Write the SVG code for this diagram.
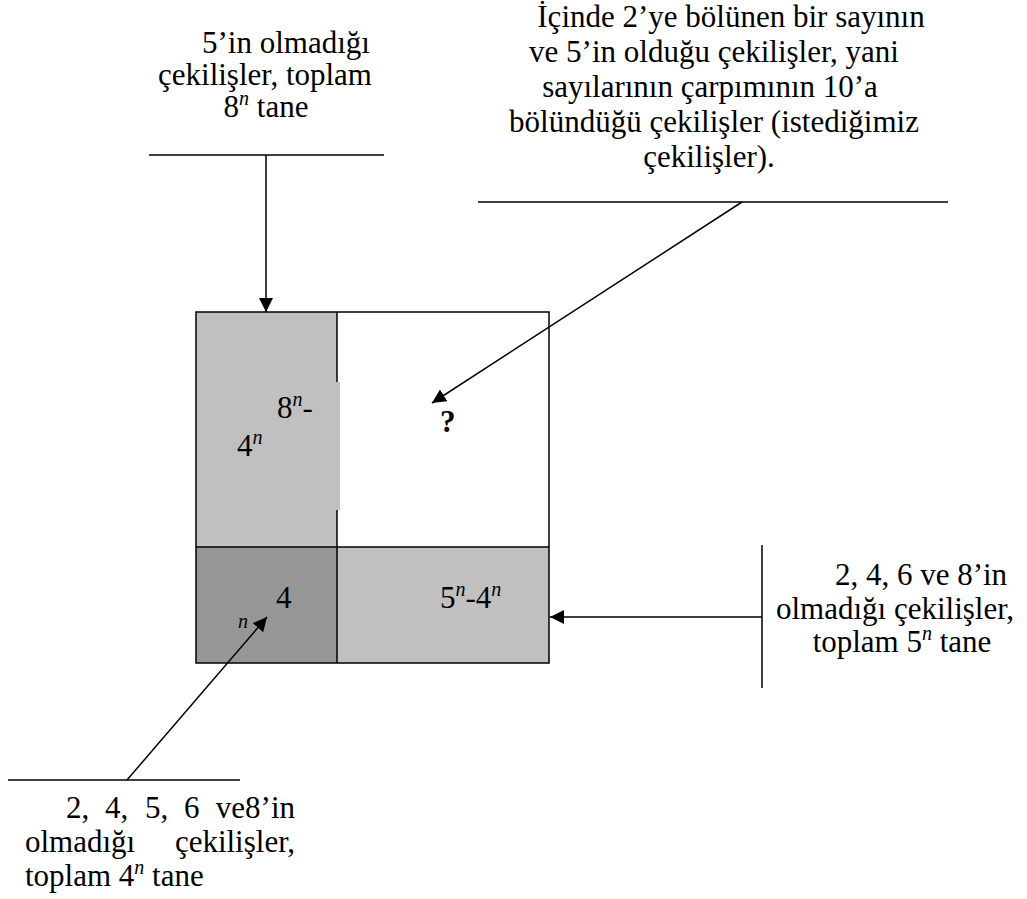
<svg xmlns="http://www.w3.org/2000/svg" width="1027" height="899" viewBox="0 0 1027 899">
<style>
text{font-family:"Liberation Serif","Times New Roman",serif;font-size:31px;fill:#000}
.sup{font-size:20px;font-style:italic}
.ln{stroke:#000;stroke-width:1.5;fill:none}
.c{text-anchor:middle}
</style>
<defs>
<marker id="ah" viewBox="0 0 10 10" refX="10" refY="5" markerWidth="14" markerHeight="14" markerUnits="userSpaceOnUse" orient="auto">
<path d="M0,0 L10,5 L0,10 z" fill="#000"/>
</marker>
</defs>
<rect width="1027" height="899" fill="#fff"/>
<g id="grid">
<rect x="196" y="312" width="141" height="235" fill="#c0c0c0"/>
<rect x="337" y="382" width="3" height="128" fill="#c0c0c0"/>
<rect x="196" y="547" width="141" height="116" fill="#969696"/>
<rect x="337" y="547" width="212" height="116" fill="#c0c0c0"/>
<rect x="196" y="312" width="353" height="351" class="ln"/>
<line x1="196" y1="547" x2="549" y2="547" class="ln"/>
<line x1="337" y1="312" x2="337" y2="382" class="ln"/>
<line x1="337" y1="510" x2="337" y2="663" class="ln"/>
<text x="277" y="418">8<tspan class="sup" dy="-12">n</tspan><tspan dy="12">-</tspan></text>
<text x="237" y="456">4<tspan class="sup" dy="-12">n</tspan></text>
<text x="440" y="432" font-weight="bold" font-size="36">?</text>
<text x="276" y="608">4</text>
<text x="238" y="628" class="sup">n</text>
<text x="440" y="608">5<tspan class="sup" dy="-12">n</tspan><tspan dy="12">-4</tspan><tspan class="sup" dy="-12">n</tspan></text>
</g>
<g id="label-top-left">
<text class="c" x="286" y="53">5’in olmadığı</text>
<text class="c" x="265" y="85">çekilişler, toplam</text>
<text class="c" x="266" y="117">8<tspan class="sup" dy="-12">n</tspan><tspan dy="12"> tane</tspan></text>
</g>
<g id="label-top-right">
<text class="c" x="731" y="27">İçinde 2’ye bölünen bir sayının</text>
<text class="c" x="714" y="62">ve 5’in olduğu çekilişler, yani</text>
<text class="c" x="710" y="97">sayılarının çarpımının 10’a</text>
<text class="c" x="714" y="132">bölündüğü çekilişler (istediğimiz</text>
<text class="c" x="709" y="167">çekilişler).</text>
</g>
<g id="label-right">
<text class="c" x="921" y="585">2, 4, 6 ve 8’in</text>
<text class="c" x="895" y="619">olmadığı çekilişler,</text>
<text class="c" x="902" y="652">toplam 5<tspan class="sup" dy="-12">n</tspan><tspan dy="12"> tane</tspan></text>
</g>
<g id="label-bottom-left">
<text x="66" y="818">2,</text>
<text x="105" y="818">4,</text>
<text x="145" y="818">5,</text>
<text x="184" y="818">6</text>
<text x="295" y="818" text-anchor="end">ve8’in</text>
<text x="25" y="852">olmadığı</text>
<text x="295" y="852" text-anchor="end">çekilişler,</text>
<text x="25" y="886">toplam 4<tspan class="sup" dy="-12">n</tspan><tspan dy="12"> tane</tspan></text>
</g>
<g id="connectors">
<line x1="149" y1="155" x2="384" y2="155" class="ln"/>
<line x1="266" y1="155" x2="266" y2="312" class="ln" marker-end="url(#ah)"/>
<line x1="478" y1="202" x2="948" y2="202" class="ln"/>
<line x1="742" y1="202" x2="432" y2="403" class="ln" marker-end="url(#ah)"/>
<line x1="762" y1="545" x2="762" y2="688" class="ln"/>
<line x1="762" y1="617" x2="550" y2="617" class="ln" marker-end="url(#ah)"/>
<line x1="8" y1="780" x2="240" y2="780" class="ln"/>
<line x1="127" y1="780" x2="267" y2="617" class="ln" marker-end="url(#ah)"/>
</g>
</svg>
